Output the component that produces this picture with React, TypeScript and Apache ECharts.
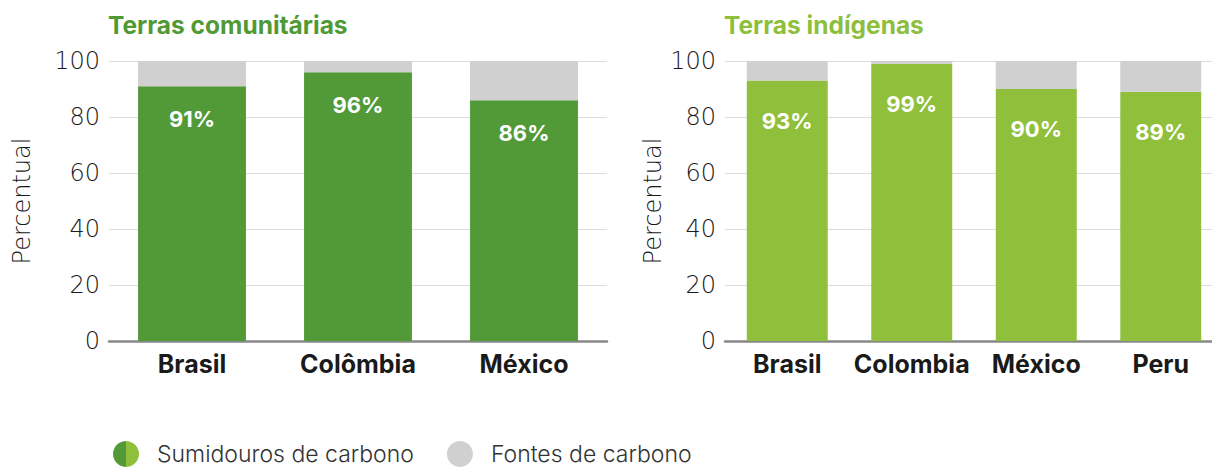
import React, { useEffect, useRef } from "react";
import * as echarts from "echarts";

const leftTitle = "Terras comunitárias";
const rightTitle = "Terras indígenas";
const leftCategories = ["Brasil", "Colômbia", "México"];
const leftSinks = [91, 96, 86];
const leftSources = [9, 4, 14];
const rightCategories = ["Brasil", "Colombia", "México", "Peru"];
const rightSinks = [93, 99, 90, 89];
const rightSources = [7, 1, 10, 11];
const sinkName = "Sumidouros de carbono";
const sourceName = "Fontes de carbono";
const yAxisName = "Percentual";

const DARK = "#529a38";
const LIGHT = "#8fbf3b";
const GRAY = "#d0d0d0";
const FONT = "Inter";
const WIDE = "DejaVu Sans";

export default function App() {
  const ref = useRef<HTMLDivElement>(null);
  useEffect(() => {
    if (!ref.current) return;
    const chart = echarts.init(ref.current, null, { renderer: "svg" });
    const yAxisCommon = (gridIndex: number, nameGap: number) => ({
      type: "value",
      gridIndex,
      min: 0,
      max: 100,
      interval: 20,
      name: yAxisName,
      nameLocation: "middle",
      nameGap,
      nameRotate: 90,
      nameTextStyle: { fontFamily: WIDE, fontSize: 24, fontWeight: 200, color: "#1a1a1a" },
      axisLine: { show: false },
      axisTick: { show: false },
      axisLabel: { fontFamily: WIDE, fontSize: 24, fontWeight: 200, color: "#1a1a1a", margin: 9 },
      splitLine: { lineStyle: { color: "#dcdcdc", width: 1 } },
    });
    const xAxisCommon = (gridIndex: number, data: string[]) => ({
      type: "category",
      gridIndex,
      data,
      axisLine: { lineStyle: { color: "#888", width: 2.5 } },
      axisTick: { show: false },
      axisLabel: {
        interval: 0,
        fontFamily: FONT,
        fontSize: 25,
        fontWeight: 700,
        color: "#1a1a1a",
        margin: 10,
      },
    });
    const makeLabel = (distance: number) => ({
      show: true,
      position: "insideTop",
      distance,
      formatter: "{c}%",
      fontFamily: FONT,
      fontSize: 22,
      fontWeight: 700,
      color: "#fff",
    });
    chart.setOption({
      animation: false,
      title: [
        {
          text: leftTitle,
          left: 108,
          top: 12,
          padding: 0,
          textStyle: { fontFamily: FONT, fontSize: 24.5, fontWeight: 700, color: "#4f9a35" },
        },
        {
          text: rightTitle,
          left: 724,
          top: 12,
          padding: 0,
          textStyle: { fontFamily: FONT, fontSize: 24.5, fontWeight: 700, color: "#8dbf3c" },
        },
      ],
      legend: {
        left: 113,
        top: 441,
        padding: 0,
        itemWidth: 26,
        itemHeight: 26,
        itemGap: 33,
        icon: "circle",
        textStyle: {
          fontFamily: FONT,
          fontSize: 23,
          fontWeight: 300,
          color: "#333",
          padding: [0, 0, 0, 13],
        },
        data: [
          {
            name: sinkName,
            itemStyle: {
              color: new echarts.graphic.LinearGradient(0, 0, 1, 0, [
                { offset: 0, color: DARK },
                { offset: 0.5, color: DARK },
                { offset: 0.5, color: LIGHT },
                { offset: 1, color: LIGHT },
              ]),
            },
          },
          { name: sourceName, itemStyle: { color: GRAY } },
        ],
      },
      grid: [
        { left: 109, right: 617, top: 61, bottom: 126 },
        { left: 725, right: 1, top: 61, bottom: 126 },
      ],
      xAxis: [xAxisCommon(0, leftCategories), xAxisCommon(1, rightCategories)],
      yAxis: [yAxisCommon(0, 75), yAxisCommon(1, 60)],
      series: [
        {
          type: "bar",
          name: sinkName,
          xAxisIndex: 0,
          yAxisIndex: 0,
          stack: "L",
          barWidth: "65%",
          data: leftSinks,
          itemStyle: { color: DARK },
          label: makeLabel(22),
        },
        {
          type: "bar",
          name: sourceName,
          xAxisIndex: 0,
          yAxisIndex: 0,
          stack: "L",
          barWidth: "65%",
          data: leftSources,
          itemStyle: { color: GRAY },
        },
        {
          type: "bar",
          name: sinkName,
          xAxisIndex: 1,
          yAxisIndex: 1,
          stack: "R",
          barWidth: "65%",
          data: rightSinks,
          itemStyle: { color: LIGHT },
          label: makeLabel(29),
        },
        {
          type: "bar",
          name: sourceName,
          xAxisIndex: 1,
          yAxisIndex: 1,
          stack: "R",
          barWidth: "65%",
          data: rightSources,
          itemStyle: { color: GRAY },
        },
      ],
    });
    return () => chart.dispose();
  }, []);
  return (
    <div
      style={{
        position: "absolute",
        left: 0,
        top: 0,
        width: 1212,
        height: 467,
        overflow: "hidden",
        background: "#fff",
      }}
    >
      <div ref={ref} style={{ width: 1224, height: 467 }} />
    </div>
  );
}
